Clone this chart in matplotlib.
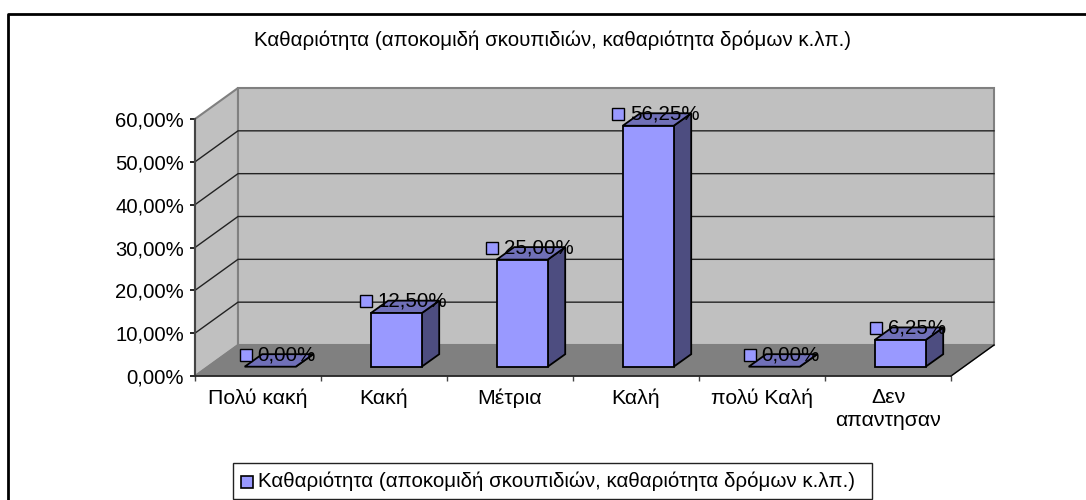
import matplotlib
matplotlib.use("Agg")
import matplotlib.pyplot as plt
from matplotlib.patches import Polygon, Rectangle
from matplotlib.lines import Line2D

plt.rcParams["font.family"] = ["Liberation Sans", "DejaVu Sans"]

categories = ["Πολύ κακή", "Κακή", "Μέτρια", "Καλή", "πολύ Καλή", "Δεν\nαπαντησαν"]
values = [0.00, 12.50, 25.00, 56.25, 0.00, 6.25]
value_labels = ["0,00%", "12,50%", "25,00%", "56,25%", "0,00%", "6,25%"]
y_ticks = [0, 10, 20, 30, 40, 50, 60]
y_tick_labels = ["0,00%", "10,00%", "20,00%", "30,00%", "40,00%", "50,00%", "60,00%"]
title = "Καθαριότητα (αποκομιδή σκουπιδιών, καθαριότητα δρόμων κ.λπ.)"

W, H = 1086, 500
fig = plt.figure(figsize=(W / 100, H / 100), dpi=100)

# axes box is the front plane of the 3d look
left, right, top, bottom = 195, 951, 119, 376
ax = fig.add_axes([left / W, 1 - bottom / H, (right - left) / W, (bottom - top) / H])
ax.set_xlim(0, len(categories))
ax.set_ylim(0, 60)
ax.patch.set_visible(False)

px_x = (right - left) / len(categories)
px_y = (bottom - top) / 60
depth_x = 43 / px_x
depth_y = 31 / px_y


def poly(pts, face, edge, lw, z):
    ax.add_patch(Polygon(pts, closed=True, facecolor=face, edgecolor=edge,
                         linewidth=lw, clip_on=False, zorder=z))


n = len(categories)
# walls and floor
poly([(0, 0), (depth_x, depth_y), (depth_x, 60 + depth_y), (0, 60)], "#c0c0c0", "#808080", 1.5, 1)
poly([(depth_x, depth_y), (n + depth_x, depth_y), (n + depth_x, 60 + depth_y), (depth_x, 60 + depth_y)],
     "#c0c0c0", "#808080", 1.5, 1)
poly([(0, 0), (n, 0), (n + depth_x, depth_y), (depth_x, depth_y)], "#808080", "#808080", 1, 1)

for t in y_ticks[1:-1]:
    ax.plot([0, depth_x, n + depth_x], [t, t + depth_y, t + depth_y], color="#222222",
            lw=1, clip_on=False, zorder=2)
ax.plot([0, n], [0, 0], color="#222222", lw=1, zorder=2)
ax.plot([n, n + depth_x], [0, depth_y], color="#000000", lw=1, clip_on=False, zorder=2)

# bars
bar_w = 51 / px_x
bar_dx = 17.5 / px_x
bar_dy = 12.5 / px_y
base_y = 9.3 / px_y
for i, v in enumerate(values):
    x0 = i + (49.7 / px_x)
    x1 = x0 + bar_w
    y0 = base_y
    y1 = base_y + v
    z = 3 + i
    poly([(x1, y0), (x1 + bar_dx, y0 + bar_dy), (x1 + bar_dx, y1 + bar_dy), (x1, y1)], "#4d4d80", "#000000", 1.3, z)
    poly([(x0, y1), (x1, y1), (x1 + bar_dx, y1 + bar_dy), (x0 + bar_dx, y1 + bar_dy)], "#7070b8", "#000000", 1.3, z)
    if v > 0:
        poly([(x0, y0), (x1, y0), (x1, y1), (x0, y1)], "#9999ff", "#000000", 1.3, z)
    # label is centred, so the short ones start further right
    lx = x0 + ((-5 if len(value_labels[i]) > 5 else 1) / px_x)
    ly = y1 + 12 / px_y
    ax.plot([lx], [ly], marker="s", ms=8, mfc="#9999ff", mec="#000000", mew=1,
            clip_on=False, zorder=20)
    ax.text(lx + 12 / px_x, ly, value_labels[i], fontsize=14.8, color="#000000",
            ha="left", va="center", clip_on=False, zorder=21)

ax.set_xticks(range(n + 1))
ax.set_xticklabels([""] * (n + 1))
ax.set_yticks(y_ticks)
ax.set_yticklabels(y_tick_labels, fontsize=14.6)
ax.tick_params(axis="y", length=3.6, width=1.2, direction="out", pad=4.3)
ax.tick_params(axis="x", length=3.3, width=1, direction="out", color="#444444")
for s in ["top", "right"]:
    ax.spines[s].set_visible(False)
ax.spines["left"].set_linewidth(1.5)
ax.spines["left"].set_color("#444444")
ax.spines["bottom"].set_linewidth(1.2)
ax.spines["bottom"].set_color("#222222")
for s in ax.spines.values():
    s.set_zorder(2.5)

for i, c in enumerate(categories):
    ax.annotate(c, (i + 0.5, 0), xytext=(0, -12), textcoords="offset pixels",
                ha="center", va="top", fontsize=15.3, linespacing=1.3)

fig.text(553 / W, 1 - 40 / H, title, fontsize=14.8, ha="center", va="center")

# chart frame, only left and top are inside the picture
fig.add_artist(Line2D([8 / W, 8 / W, 1], [0, 1 - 14 / H, 1 - 14 / H], transform=fig.transFigure,
                      color="#000000", linewidth=2))

# legend
fig.add_artist(Rectangle((232.5 / W, 1 - 499 / H), (871.5 - 232.5) / W, 36 / H, transform=fig.transFigure,
                         facecolor="white", edgecolor="#222222", linewidth=1))
fig.add_artist(Rectangle((240.5 / W, 1 - 487.5 / H), 12 / W, 12 / H, transform=fig.transFigure,
                         facecolor="#9999ff", edgecolor="#000000", linewidth=1.2))
fig.text(258 / W, 1 - 481 / H, title, fontsize=14.8, ha="left", va="center")

fig.savefig("out.png", dpi=100)
